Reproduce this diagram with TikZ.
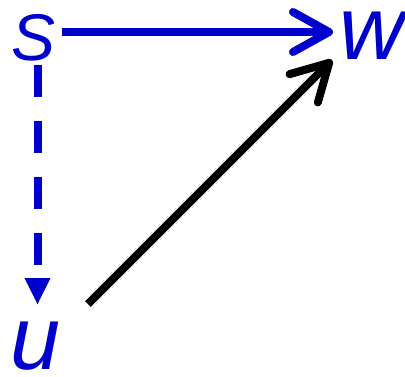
\documentclass[tikz,border=0pt]{standalone}
\usepackage{fontspec}
\setmainfont{Liberation Sans}
\usetikzlibrary{arrows.meta,calc}
\definecolor{dblue}{RGB}{0,0,204}
\begin{document}
\begin{tikzpicture}[x=1pt,y=1pt,
  lbl/.style={text=dblue,inner sep=0pt,font=\itshape},
  blueline/.style={draw=dblue,line width=8pt},
  blacklin/.style={draw=black,line width=8pt},
  chev/.style={-{Straight Barb[length=36pt,width=40pt,line width=8pt,round]}},
  tri/.style={-{Triangle[length=27pt,width=24pt]}}
]
\useasboundingbox (0,0) rectangle (405,-376);
\node[lbl,font=\itshape\fontsize{66}{66}\selectfont] (S) at (34,-38) {S};
\node[lbl,font=\itshape\fontsize{90}{90}\selectfont] (W) at (372,-36) {w};
\node[lbl,font=\itshape\fontsize{90}{90}\selectfont] (U) at (36,-346) {u};
\coordinate (Sr) at ($(S.center)+(28,6)$);
\coordinate (Sb) at ($(S.center)+(3.5,-27)$);
\draw[blueline,chev] (Sr) -- ($(W.center)+(-39,4)$);
\draw[blueline,tri,dash pattern=on 32pt off 24pt] (Sb) -- ($(U.center)+(1.5,41)$);
\draw[blacklin,chev] ($(U.center)+(52,42)$) -- ($(W.center)+(-40,-24)$);
\end{tikzpicture}
\end{document}
